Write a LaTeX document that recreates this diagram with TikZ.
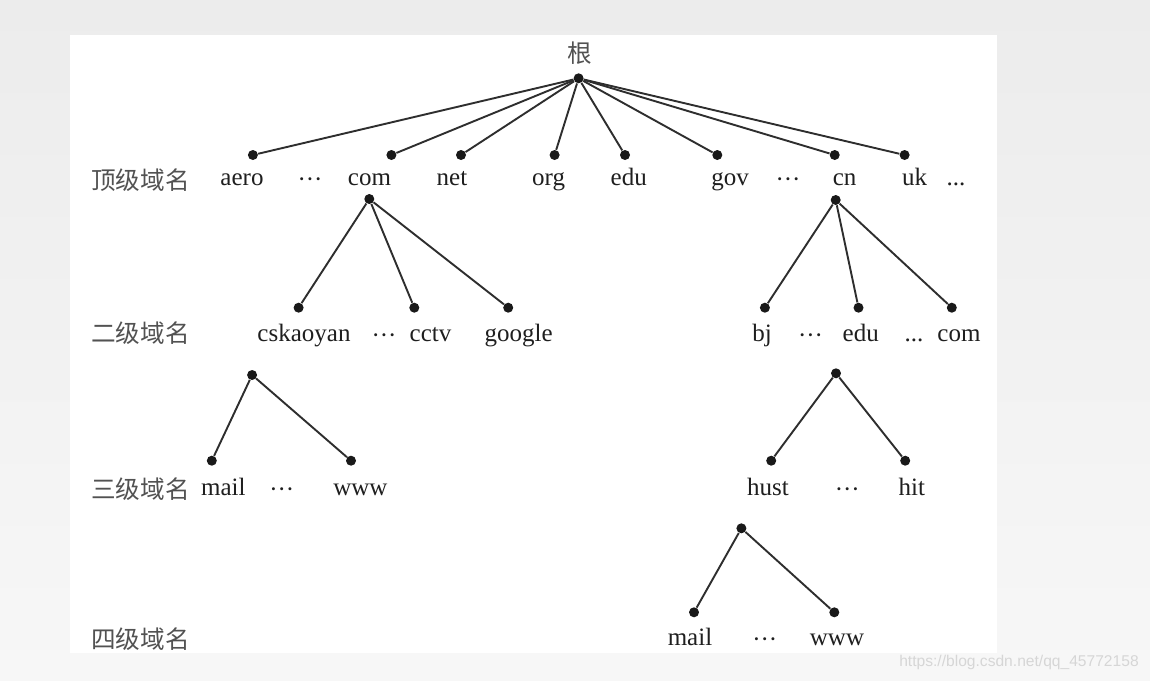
\documentclass[tikz,border=0pt]{standalone}
\usepackage{fontspec}
\setmainfont{Liberation Serif}
\newfontfamily\cjk{Noto Sans CJK SC}
\newfontfamily\wmfont{Liberation Sans}
\definecolor{bgtop}{RGB}{236,236,236}
\definecolor{bgbot}{RGB}{247,247,247}
\definecolor{wm}{RGB}{214,214,214}
\begin{document}
\begin{tikzpicture}[x=0.5pt,y=-0.5pt,
  dot/.style={circle,fill=black!90,inner sep=0pt,minimum size=5pt},
  edge/.style={draw=black!82,line width=0.95pt},
  lbl/.style={anchor=base,inner sep=0pt,text=black!88,font=\fontsize{12.5}{14}\selectfont},
  ell/.style={lbl,yshift=-1.1pt},
  lvl/.style={anchor=center,inner sep=0pt,text=black!68,font=\cjk\fontsize{12.3}{14}\selectfont}]
\useasboundingbox (0,0) rectangle (1150,680);
\shade[top color=bgtop,bottom color=bgbot] (0,0) rectangle (1150,680);
\fill[white] (70,35) rectangle (997,653);

% root
\node[lvl] (t-root) at (579.5,53.5) {根};
\node[dot] (r) at (578.6,78.3) {};

% top level
\node[dot] (aero) at (252.9,155) {};
\node[dot] (com) at (391.4,155) {};
\node[dot] (net) at (461,155) {};
\node[dot] (org) at (554.6,155) {};
\node[dot] (edu) at (625,155) {};
\node[dot] (gov) at (717.3,155) {};
\node[dot] (cn) at (834.7,155) {};
\node[dot] (uk) at (904.6,155) {};

\node[lvl] (l1) at (140.5,180) {顶级域名};
\node[lbl] (t-aero) at (242,185.5) {aero};
\node[ell] (t-e1) at (310,185.5) {···};
\node[lbl] (t-com) at (369.5,185.5) {com};
\node[lbl] (t-net) at (452,185.5) {net};
\node[lbl] (t-org) at (548.6,185.5) {org};
\node[lbl] (t-edu) at (628.7,185.5) {edu};
\node[lbl] (t-gov) at (730,185.5) {gov};
\node[ell] (t-e2) at (788,185.5) {···};
\node[lbl] (t-cn) at (844.6,185.5) {cn};
\node[lbl] (t-uk) at (914.6,185.5) {uk};
\node[lbl] (t-e3) at (956,185.5) {...};

\foreach \n in {aero,com,net,org,edu,gov,cn,uk} \draw[edge] (r) -- (\n);

% com subtree
\node[dot] (com2) at (369.3,199) {};
\node[dot] (cska) at (298.6,307.7) {};
\node[dot] (cctv) at (414.3,307.7) {};
\node[dot] (google) at (508.2,307.7) {};
\foreach \n in {cska,cctv,google} \draw[edge] (com2) -- (\n);

% cn subtree
\node[dot] (cn2) at (835.7,200) {};
\node[dot] (bj) at (764.9,307.7) {};
\node[dot] (edu2) at (858.5,307.7) {};
\node[dot] (com3) at (951.8,307.7) {};
\foreach \n in {bj,edu2,com3} \draw[edge] (cn2) -- (\n);

\node[lvl] (l2) at (140.5,333) {二级域名};
\node[lbl] (t-cska) at (304,341.5) {cskaoyan};
\node[ell] (t-e4) at (384,341.5) {···};
\node[lbl] (t-cctv) at (430.5,341.5) {cctv};
\node[lbl] (t-google) at (518.6,341.5) {google};
\node[lbl] (t-bj) at (762,341.5) {bj};
\node[ell] (t-e5) at (810.5,341.5) {···};
\node[lbl] (t-edu2) at (860.7,341.5) {edu};
\node[lbl] (t-e6) at (914,341.5) {...};
\node[lbl] (t-com3) at (959,341.5) {com};

% cskaoyan subtree
\node[dot] (cska2) at (252.1,375) {};
\node[dot] (mail) at (211.8,460.7) {};
\node[dot] (www) at (351,460.7) {};
\draw[edge] (cska2) -- (mail);
\draw[edge] (cska2) -- (www);

% edu subtree
\node[dot] (edu3) at (836,373.3) {};
\node[dot] (hust) at (771.2,460.7) {};
\node[dot] (hit) at (905.2,460.7) {};
\draw[edge] (edu3) -- (hust);
\draw[edge] (edu3) -- (hit);

\node[lvl] (l3) at (140.5,489) {三级域名};
\node[lbl] (t-mail) at (223.4,495) {mail};
\node[ell] (t-e7) at (281.8,495) {···};
\node[lbl] (t-www) at (360.4,495) {www};
\node[lbl] (t-hust) at (768,495) {hust};
\node[ell] (t-e8) at (847.3,495) {···};
\node[lbl] (t-hit) at (911.8,495) {hit};

% hust subtree
\node[dot] (hust2) at (741.4,528.3) {};
\node[dot] (mail2) at (694,612.3) {};
\node[dot] (www2) at (834.3,612.3) {};
\draw[edge] (hust2) -- (mail2);
\draw[edge] (hust2) -- (www2);

\node[lvl] (l4) at (140.5,639) {四级域名};
\node[lbl] (t-mail2) at (690,645) {mail};
\node[ell] (t-e9) at (764.8,645) {···};
\node[lbl] (t-www2) at (837,645) {www};

% watermark
\node[anchor=center,inner sep=0pt,text=wm,font=\wmfont\fontsize{7.8}{9}\selectfont] (wmk) at (1019,662) {https://blog.csdn.net/qq\_45772158};
\end{tikzpicture}
\end{document}
